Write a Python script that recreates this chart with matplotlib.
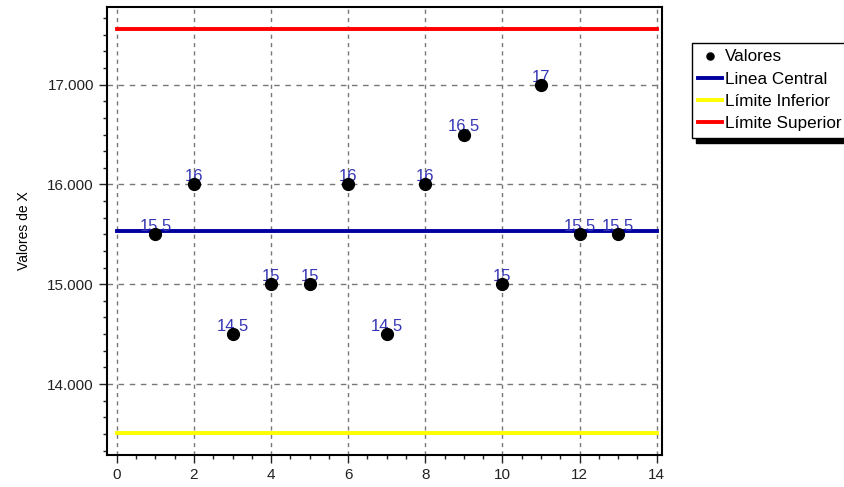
import matplotlib
matplotlib.use('Agg')
import matplotlib.pyplot as plt
from matplotlib.ticker import MultipleLocator, FormatStrFormatter

plt.rcParams['font.family'] = ['Liberation Sans', 'DejaVu Sans']

# data
muestras = [1, 2, 3, 4, 5, 6, 7, 8, 9, 10, 11, 12, 13]
valores = [15.5, 16, 14.5, 15, 15, 16, 14.5, 16, 16.5, 15, 17, 15.5, 15.5]
etiquetas = ['15.5', '16', '14.5', '15', '15', '16', '14.5', '16', '16.5', '15', '17', '15.5', '15.5']
x_limites = [0, 14]
linea_central = 15.538
limite_inferior = 13.51
limite_superior = 17.56

fig = plt.figure(figsize=(8.44, 4.87), dpi=100)
ax = fig.add_axes([0.127, 0.066, 0.657, 0.920])

ax.plot(x_limites, [linea_central] * 2, color='#0000a0', lw=2.8, label='Linea Central', zorder=3)
ax.plot(x_limites, [limite_inferior] * 2, color='#ffff00', lw=2.8, label='Límite Inferior', zorder=3)
ax.plot(x_limites, [limite_superior] * 2, color='#ff0000', lw=2.8, label='Límite Superior', zorder=3)
ax.plot(muestras, valores, 'o', color='black', markersize=8.5, label='Valores', zorder=5)

for xi, yi, txt in zip(muestras, valores, etiquetas):
    ax.annotate(txt, (xi, yi), xytext=(0, 2.2), textcoords='offset points',
                ha='center', va='baseline', color='#3535b5', fontsize=12, zorder=4)

ax.set_xlim(-0.25, 14.13)
ax.set_ylim(13.29, 17.78)
ax.xaxis.set_major_locator(MultipleLocator(2))
ax.xaxis.set_minor_locator(MultipleLocator(0.5))
ax.yaxis.set_major_locator(MultipleLocator(1))
ax.yaxis.set_minor_locator(MultipleLocator(1 / 6))
ax.yaxis.set_major_formatter(FormatStrFormatter('%.3f'))
ax.tick_params(which='major', direction='out', length=6, width=1, labelsize=11, colors='#222222')
ax.tick_params(which='minor', direction='out', length=3, width=1, colors='#222222')
for s in ax.spines.values():
    s.set_linewidth(1.5)

ax.xaxis.grid(True, color='#777777', linestyle=(0, (3, 3)), lw=1)
ax.yaxis.grid(True, color='#777777', linestyle=(0, (4, 4)), lw=1)
ax.set_ylabel('Valores de X', fontsize=10, labelpad=12)

handles, labels = ax.get_legend_handles_labels()
order = [3, 0, 1, 2]
leg = ax.legend([handles[i] for i in order], [labels[i] for i in order],
                loc='upper left', bbox_to_anchor=(1.054, 0.92), fontsize=12.3,
                frameon=True, fancybox=False, shadow={'color': 'black', 'alpha': 1.0, 'ox': 3, 'oy': -4},
                borderpad=0.4, labelspacing=0.42, handlelength=1.4, handletextpad=0.15,
                markerscale=0.6, borderaxespad=0)
leg.get_frame().set_edgecolor('black')
leg.get_frame().set_linewidth(1)

fig.savefig('out.png', dpi=100)
